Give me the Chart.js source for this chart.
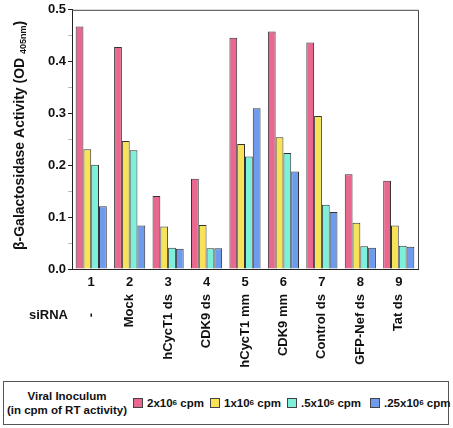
<!DOCTYPE html>
<html>
<head>
<meta charset="utf-8">
<script src="https://cdn.jsdelivr.net/npm/chart.js@4.4.0/dist/chart.umd.min.js"></script>
<style>
  body { margin: 0; background: #fff; font-family: "Liberation Sans", Arial, sans-serif; }
  #wrap { position: relative; width: 453px; height: 428px; }
  #legend {
    position: absolute; left: 3px; top: 381px; width: 446px; height: 44px;
    border: 1px solid #555; box-sizing: border-box;
    font-weight: bold; font-size: 11.5px; color: #111;
  }
  #legend .ttl { position: absolute; left: 0; top: 7px; width: 126px; text-align: center; line-height: 14px; white-space: nowrap; }
  #legend .it { position: absolute; top: 14px; display: flex; align-items: center; white-space: nowrap; line-height: 14px; }
  #legend .sw { width: 8px; height: 8px; border: 1px solid #444; margin-right: 4px; }
  #legend sup { font-size: 8px; vertical-align: 5px; line-height: 0; }
</style>
</head>
<body>
<div id="wrap">
  <canvas id="cnv" width="453" height="378"></canvas>
  <div id="legend"></div>
</div>
<script>
var groups = ["1", "2", "3", "4", "5", "6", "7", "8", "9"];
var sirna = ["-", "Mock", "hCycT1 ds", "CDK9 ds", "hCycT1 mm", "CDK9 mm", "Control ds", "GFP-Nef ds", "Tat ds"];
var seriesNames = ["2x10|6| cpm", "1x10|6| cpm", ".5x10|6| cpm", ".25x10|6| cpm"];
var seriesColors = ["#e8688f", "#f8e258", "#7cf0da", "#6f9bef"];
var s2e6 = [0.468, 0.428, 0.141, 0.174, 0.446, 0.458, 0.437, 0.183, 0.170];
var s1e6 = [0.231, 0.247, 0.082, 0.085, 0.241, 0.254, 0.295, 0.089, 0.084];
var s05e6 = [0.201, 0.229, 0.041, 0.040, 0.217, 0.224, 0.124, 0.044, 0.045];
var s025e6 = [0.121, 0.084, 0.039, 0.040, 0.310, 0.188, 0.110, 0.041, 0.043];
var yTicks = [0, 0.1, 0.2, 0.3, 0.4, 0.5];

var allData = [s2e6, s1e6, s05e6, s025e6];
var boldFont = '"Liberation Sans", Arial, sans-serif';
var legendLeft = [129, 206, 283, 366];

// legend as html
var leg = document.getElementById("legend");
var html = '<div class="ttl">Viral Inoculum<br>(in cpm of RT activity)</div>';
for (let i = 0; i < seriesNames.length; i++) {
  let p = seriesNames[i].split("|");
  html += '<div class="it" style="left:' + legendLeft[i] + 'px"><div class="sw" style="background:' + seriesColors[i] + '"></div>' +
    p[0] + '<sup>' + p[1] + '</sup>&nbsp;' + p[2].trim() + '</div>';
}
leg.innerHTML = html;

var extras = {
  id: "extras",
  afterDraw: function(chart) {
    const ctx = chart.ctx;
    const a = chart.chartArea;
    const xs = chart.scales.x;
    ctx.save();
    // top and right frame
    ctx.strokeStyle = "#444";
    ctx.lineWidth = 1;
    ctx.beginPath();
    ctx.moveTo(a.left, a.top + 0.5);
    ctx.lineTo(a.right + 0.5, a.top + 0.5);
    ctx.lineTo(a.right + 0.5, a.bottom);
    ctx.stroke();

    // rotated siRNA names
    ctx.fillStyle = "#111";
    ctx.font = "bold 13px " + boldFont;
    for (let i = 0; i < sirna.length; i++) {
      let x = xs.getPixelForValue(i);
      ctx.save();
      if (sirna[i] == "-") {
        ctx.translate(x, 315);
        ctx.rotate(-Math.PI / 2);
        ctx.textAlign = "center";
      } else {
        ctx.translate(x, 294);
        ctx.rotate(-Math.PI / 2);
        ctx.textAlign = "right";
      }
      ctx.textBaseline = "middle";
      ctx.fillText(sirna[i], 0, 0);
      ctx.restore();
    }
    ctx.textAlign = "left";
    ctx.textBaseline = "middle";
    ctx.fillText("siRNA", 29, 315);

    // y axis title with subscript
    ctx.save();
    ctx.translate(20, 250);
    ctx.rotate(-Math.PI / 2);
    ctx.textAlign = "left";
    ctx.textBaseline = "middle";
    let t1 = "\u03b2-Galactosidase Activity (OD ";
    ctx.font = "bold 14px " + boldFont;
    ctx.fillText(t1, 0, 0);
    let w = ctx.measureText(t1).width;
    ctx.font = "bold 9px " + boldFont;
    ctx.fillText("405nm", w, 4);
    w += ctx.measureText("405nm").width;
    ctx.font = "bold 14px " + boldFont;
    ctx.fillText(")", w, 0);
    ctx.restore();
    ctx.restore();
  }
};

var datasets = [];
for (let i = 0; i < allData.length; i++) {
  datasets.push({
    label: seriesNames[i].split("|").join(""),
    data: allData[i],
    backgroundColor: seriesColors[i],
    borderColor: "#333",
    borderWidth: 1,
    categoryPercentage: 0.81,
    barPercentage: 1.0
  });
}

const ctx = document.getElementById("cnv").getContext("2d");
const myChart = new Chart(ctx, {
  type: "bar",
  data: { labels: groups, datasets: datasets },
  options: {
    responsive: false,
    animation: false,
    layout: { padding: { top: 5, right: 35, left: 0, bottom: 0 } },
    plugins: { legend: { display: false }, tooltip: { enabled: false } },
    scales: {
      x: {
        grid: { display: false, drawTicks: false },
        border: { display: true, color: "#222", width: 1 },
        ticks: {
          color: "#111", padding: 6, autoSkip: false, minRotation: 0, maxRotation: 0,
          font: { family: boldFont, size: 13, weight: "bold" }
        },
        afterFit: function(s) { s.height = 109; }
      },
      y: {
        min: 0, max: 0.5,
        border: { display: true, color: "#222", width: 1 },
        grid: {
          drawOnChartArea: false,
          tickLength: 4,
          tickColor: function(c) { return Math.round(c.tick.value * 100) % 10 == 0 ? "#222" : "#bbb"; }
        },
        ticks: {
          stepSize: 0.05,
          color: "#111",
          padding: 2,
          font: { family: boldFont, size: 13, weight: "bold" },
          callback: function(v) {
            for (let t of yTicks) { if (Math.abs(t - v) < 1e-6) return t.toFixed(1); }
            return "";
          }
        },
        afterFit: function(s) { s.width = 72; }
      }
    }
  },
  plugins: [extras]
});
</script>
</body>
</html>
